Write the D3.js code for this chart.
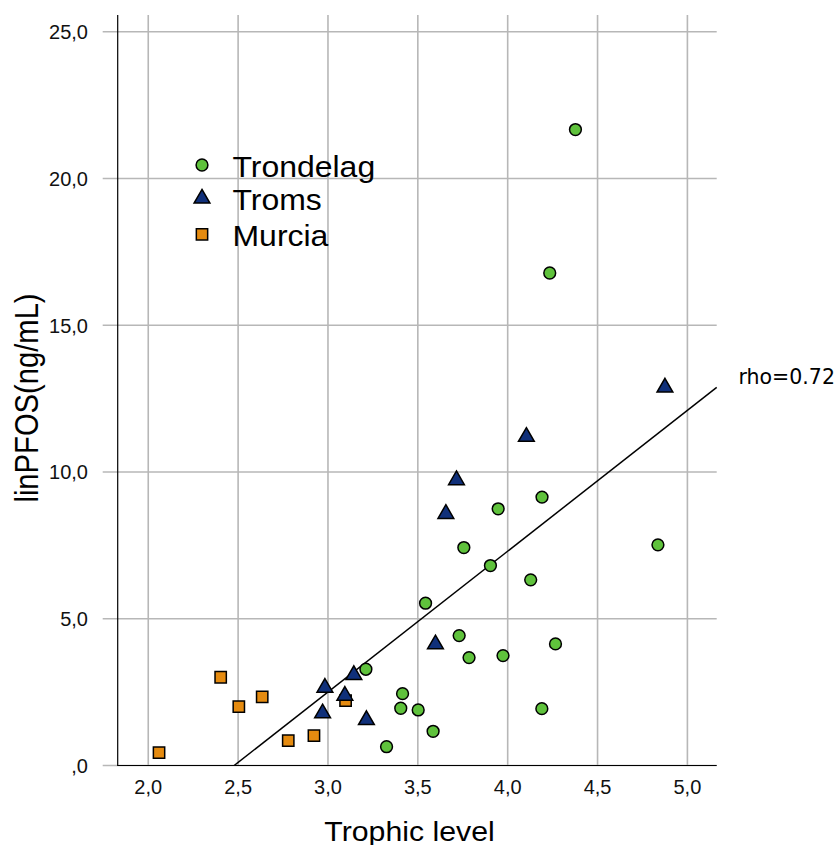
<!DOCTYPE html>
<html>
<head>
<meta charset="utf-8">
<script src="https://cdn.jsdelivr.net/npm/d3@7"></script>
<style>
html,body{margin:0;padding:0;background:#fff;}
svg{display:block;}
</style>
</head>
<body>
<svg id="chart" width="840" height="845"></svg>
<script>
// ---- data ----
const trondelagX = [3.543, 3.211, 3.415, 3.405, 3.502, 3.585, 3.326, 3.730, 3.785, 3.974, 4.266, 4.190, 3.947, 4.191, 3.756, 3.904, 4.128, 4.377, 4.234, 4.836];
const trondelagY = [5.53, 3.28, 2.448, 1.95, 1.892, 1.166, 0.641, 4.426, 3.676, 3.744, 4.143, 1.937, 8.745, 9.144, 7.426, 6.812, 6.325, 21.667, 16.78, 7.518];
const tromsX = [2.983, 2.970, 3.144, 3.094, 3.214, 3.598, 4.104, 3.715, 3.656, 4.875];
const tromsY = [2.653, 1.78, 3.086, 2.38, 1.551, 4.13, 11.2, 9.724, 8.575, 12.88];
const murciaX = [2.060, 2.403, 2.504, 2.634, 2.779, 2.922, 3.098];
const murciaY = [0.437, 3.007, 2.005, 2.335, 0.846, 1.016, 2.21];
const seriesNames = ["Trondelag", "Troms", "Murcia"];
const xTicks = [2.0, 2.5, 3.0, 3.5, 4.0, 4.5, 5.0];
const xTickLabels = ["2,0", "2,5", "3,0", "3,5", "4,0", "4,5", "5,0"];
const yTicks = [0, 5, 10, 15, 20, 25];
const yTickLabels = [",0", "5,0", "10,0", "15,0", "20,0", "25,0"];
const fitSlope = 4.797;
const fitIntercept = -11.887;
const rhoLabel = "rho=0.72";
const xTitle = "Trophic level";
const yTitle = "linPFOS(ng/mL)";

// ---- setup ----
const svg = d3.select("#chart");
const L = 117.7, R = 716.7, T = 15, B = 765.5;
const x = d3.scaleLinear().domain([1.83, 5.163]).range([L, R]);
const y = d3.scaleLinear().domain([0, 25.57]).range([B, T]);
const colors = {Trondelag: "#5fc23c", Troms: "#10307a", Murcia: "#e58b10"};
const font = "'Liberation Sans', Arial, sans-serif";

// gridlines
const grid = svg.append("g").attr("stroke", "#b7b7b7").attr("stroke-width", 1.6);
grid.selectAll("line.v").data(xTicks).join("line")
  .attr("x1", d => x(d)).attr("x2", d => x(d)).attr("y1", T).attr("y2", B);
grid.selectAll("line.h").data(yTicks).join("line")
  .attr("x1", L - 15).attr("x2", R).attr("y1", d => y(d)).attr("y2", d => y(d));

// axes lines
svg.append("line").attr("x1", L).attr("x2", L).attr("y1", T).attr("y2", B + 0.5)
  .attr("stroke", "#000").attr("stroke-width", 1.2);
svg.append("line").attr("x1", L).attr("x2", R).attr("y1", B).attr("y2", B)
  .attr("stroke", "#000").attr("stroke-width", 1.2);

// tick labels
svg.selectAll("text.xt").data(xTicks).join("text")
  .attr("x", d => x(d)).attr("y", 794).attr("text-anchor", "middle")
  .attr("font-family", font).attr("font-size", 20).attr("fill", "#111")
  .text((d, i) => xTickLabels[i]);
svg.selectAll("text.yt").data(yTicks).join("text")
  .attr("x", 88).attr("y", d => y(d) + 7.3).attr("text-anchor", "end")
  .attr("font-family", font).attr("font-size", 20).attr("fill", "#111")
  .text((d, i) => yTickLabels[i]);

// axis titles (slightly stretched horizontally as in the reference)
svg.append("text").attr("transform", "translate(409.5,840.7) scale(1.13,1)")
  .attr("text-anchor", "middle").attr("font-family", font).attr("font-size", 26.8)
  .attr("fill", "#000").text(xTitle);
svg.append("text").attr("transform", "translate(37.5,398) scale(1.115,1) rotate(-90)")
  .attr("text-anchor", "middle").attr("font-family", font).attr("font-size", 29.2)
  .attr("fill", "#000").text(yTitle);

// fit line
const x0 = -fitIntercept / fitSlope;
const x1 = x.domain()[1];
svg.append("line")
  .attr("x1", x(x0)).attr("y1", y(fitSlope * x0 + fitIntercept))
  .attr("x2", x(x1)).attr("y2", y(fitSlope * x1 + fitIntercept))
  .attr("stroke", "#000").attr("stroke-width", 1.5);
svg.append("text").attr("x", 738.5).attr("y", 383.5)
  .attr("font-family", "'DejaVu Sans', sans-serif").attr("font-size", 20.5)
  .attr("fill", "#000").text(rhoLabel);

// markers
const symCircle = d3.symbol().type(d3.symbolCircle).size(Math.PI * 5.9 * 5.9);
const symTri = d3.symbol().type(d3.symbolTriangle).size(108);
const symSq = d3.symbol().type(d3.symbolSquare).size(128);

const tr = trondelagX.map((v, i) => [v, trondelagY[i]]);
const tm = tromsX.map((v, i) => [v, tromsY[i]]);
const mu = murciaX.map((v, i) => [v, murciaY[i]]);

function drawPoints(data, sym, col) {
  svg.append("g").selectAll("path").data(data).join("path")
    .attr("d", sym())
    .attr("transform", d => `translate(${x(d[0])},${y(d[1])})`)
    .attr("fill", col).attr("stroke", "#000").attr("stroke-width", 1.5);
}
drawPoints(mu, symSq, colors.Murcia);
drawPoints(tm, symTri, colors.Troms);
drawPoints(tr, symCircle, colors.Trondelag);

// legend
const legendSyms = [symCircle, symTri, symSq];
const legendY = [165, 198.5, 234.3];
const lg = svg.append("g");
seriesNames.forEach((name, i) => {
  lg.append("path").attr("d", legendSyms[i]())
    .attr("transform", `translate(202,${legendY[i]})`)
    .attr("fill", colors[name]).attr("stroke", "#000").attr("stroke-width", 1.5);
  lg.append("text").attr("transform", `translate(232.5,${legendY[i] + 11.5}) scale(1.065,1)`)
    .attr("font-family", font).attr("font-size", 30).attr("fill", "#000").text(name);
});
</script>
</body>
</html>
